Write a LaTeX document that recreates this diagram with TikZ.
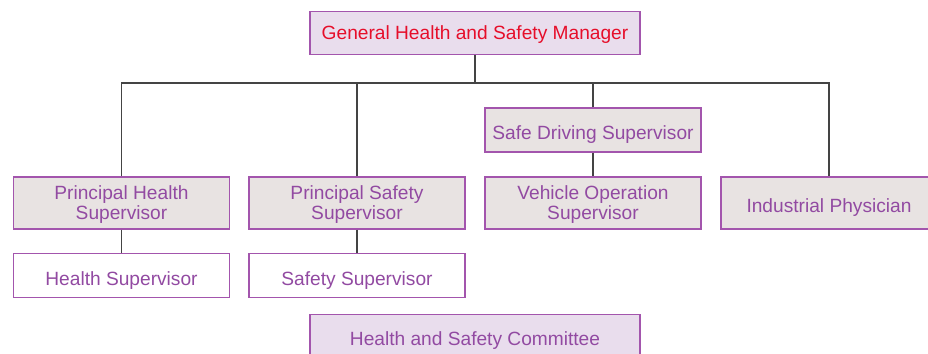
\documentclass[tikz,border=0pt]{standalone}
\usepackage{fontspec}
\setmainfont{Liberation Sans}
\usepackage{xcolor}
\definecolor{boxline}{HTML}{A355AD}
\definecolor{boxtext}{HTML}{924AA2}
\definecolor{greyfill}{HTML}{E8E3E2}
\definecolor{lilacfill}{HTML}{E9DDED}
\definecolor{headred}{HTML}{E60E2A}
\definecolor{linkcol}{HTML}{444444}

\begin{document}
\begin{tikzpicture}[x=0.02cm,y=-0.02cm,
  post/.style={draw=boxline,line width=0.7pt,text=boxtext,font=\fontsize{10.9}{11.4}\selectfont,
    align=center,inner sep=0pt,text depth=0pt,minimum width=4.32cm},
  oneline/.style={text height=11pt},
  grey/.style={post,fill=greyfill,minimum height=1.04cm},
  plain/.style={post,oneline,fill=white,minimum height=0.88cm},
  lilac/.style={post,fill=lilacfill,minimum width=6.6cm,minimum height=0.86cm},
  link/.style={draw=linkcol,line width=0.75pt}]
\useasboundingbox (0,0) rectangle (928,354);
% boxes
\node[lilac,text=headred] (gm) at (475,33) {General Health and Safety Manager};
\node[grey] (ph) at (121.5,203) {Principal Health\\Supervisor};
\node[grey] (ps) at (357,203) {Principal Safety\\Supervisor};
\node[grey] (vo) at (593,203) {Vehicle Operation\\Supervisor};
\node[grey,oneline] (ip) at (829,203) {Industrial Physician};
\node[grey,oneline,minimum height=0.88cm] (sd) at (593,130) {Safe Driving Supervisor};
\node[plain] (hs) at (121.5,275.5) {Health Supervisor};
\node[plain] (ss) at (357,275.5) {Safety Supervisor};
\node[lilac,oneline] (hsc) at (475,336) {Health and Safety Committee};
% links
\coordinate (bar) at (0,83);
\draw[link] (gm.south) -- (gm.south|-bar);
\draw[link] (ph.north) -- (ph.north|-bar) -- (ip.north|-bar) -- (ip.north);
\draw[link] (ps.north) -- (ps.north|-bar);
\draw[link] (sd.north) -- (sd.north|-bar);
\draw[link] (sd) -- (vo);
\draw[link] (ph) -- (hs);
\draw[link] (ps) -- (ss);
\end{tikzpicture}
\end{document}
